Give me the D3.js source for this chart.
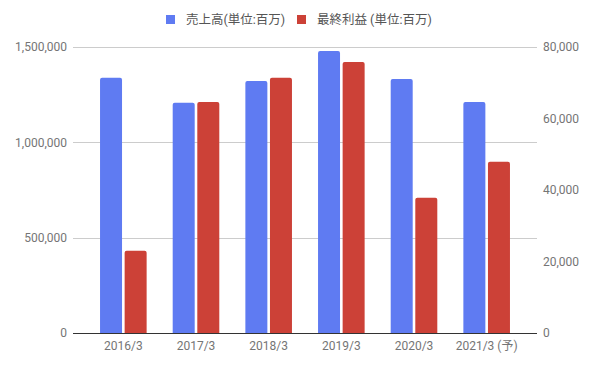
<!DOCTYPE html>
<html><head><meta charset="utf-8">
<script src="https://cdn.jsdelivr.net/npm/d3@7"></script>
<style>body{margin:0;background:#fff}svg{display:block}text{font-family:Roboto,"Noto Sans CJK JP",sans-serif}</style>
</head><body><svg id="c" width="594" height="367"></svg>
<script>
const categories = ["2016/3","2017/3","2018/3","2019/3","2020/3","2021/3 (予)"];
const sales = [1339000, 1208000, 1322000, 1479000, 1332000, 1211000];
const profit = [23000, 64600, 71400, 75800, 37800, 47900];
const leftTicks = [0, 500000, 1000000, 1500000];
const rightTicks = [0, 20000, 40000, 60000, 80000];
const seriesNames = ["売上高(単位:百万)", "最終利益 (単位:百万)"];
const colors = ["#5f7bf2", "#cc4137"];

(function(){
const svg = d3.select("#c");
const pTop = 47, pBottom = 333, pLeft = 73, pRight = 537;
const x = d3.scaleBand().domain(categories).range([87, 523]);
const yL = d3.scaleLinear().domain([0, 1500000]).range([pBottom, pTop]);
const yR = d3.scaleLinear().domain([0, 80000]).range([pBottom, pTop]);
const fmt = d3.format(",");

svg.append("g").selectAll("line").data(leftTicks.filter(d=>d>0)).join("line")
  .attr("x1", pLeft).attr("x2", pRight).attr("y1", d=>Math.round(yL(d))+0.5).attr("y2", d=>Math.round(yL(d))+0.5)
  .attr("stroke", "#cccccc").attr("stroke-width", 1);

svg.append("g").selectAll("text").data(leftTicks).join("text")
  .attr("x", 67).attr("y", d=>yL(d)).attr("dy","0.35em").attr("text-anchor","end")
  .attr("font-size", 12).attr("fill", "#757575").text(d=>fmt(d));
svg.append("g").selectAll("text").data(rightTicks).join("text")
  .attr("x", 543).attr("y", d=>yR(d)).attr("dy","0.35em").attr("text-anchor","start")
  .attr("font-size", 12).attr("fill", "#757575").text(d=>fmt(d));

const bw = 22, gap = 2.6, r = 2;
function barPath(x0, y0, w, h){
  if (h < r) return `M${x0},${y0+h}V${y0}H${x0+w}V${y0+h}Z`;
  return `M${x0},${y0+h}V${y0+r}Q${x0},${y0} ${x0+r},${y0}H${x0+w-r}Q${x0+w},${y0} ${x0+w},${y0+r}V${y0+h}Z`;
}
const g = svg.append("g");
g.selectAll("path.s").data(categories).join("path").attr("class","s")
  .attr("fill", colors[0])
  .attr("d", (c,i)=>{const cx = x(c)+x.bandwidth()/2; const y0=yL(sales[i]); return barPath(cx-gap/2-bw, y0, bw, pBottom-y0);});
g.selectAll("path.p").data(categories).join("path").attr("class","p")
  .attr("fill", colors[1])
  .attr("d", (c,i)=>{const cx = x(c)+x.bandwidth()/2; const y0=yR(profit[i]); return barPath(cx+gap/2, y0, bw, pBottom-y0);});

svg.append("line").attr("x1", pLeft).attr("x2", pRight).attr("y1", pBottom+0.5).attr("y2", pBottom+0.5)
  .attr("stroke", "#333").attr("stroke-width", 1);

svg.append("g").selectAll("text").data(categories).join("text")
  .attr("x", c=>x(c)+x.bandwidth()/2).attr("y", 346).attr("dy","0.35em").attr("text-anchor","middle")
  .attr("font-size", 12).attr("fill", "#757575").text(d=>d);

const leg = [{x:166, tx:186}, {x:297, tx:317}];
seriesNames.forEach((n,i)=>{
  svg.append("rect").attr("x", leg[i].x).attr("y", 15).attr("width", 9).attr("height", 9).attr("fill", colors[i]);
  svg.append("text").attr("x", leg[i].tx).attr("y", 20).attr("dy","0.35em").attr("font-size", 12.5).attr("fill","#555").text(n);
});
})();
</script></body></html>
